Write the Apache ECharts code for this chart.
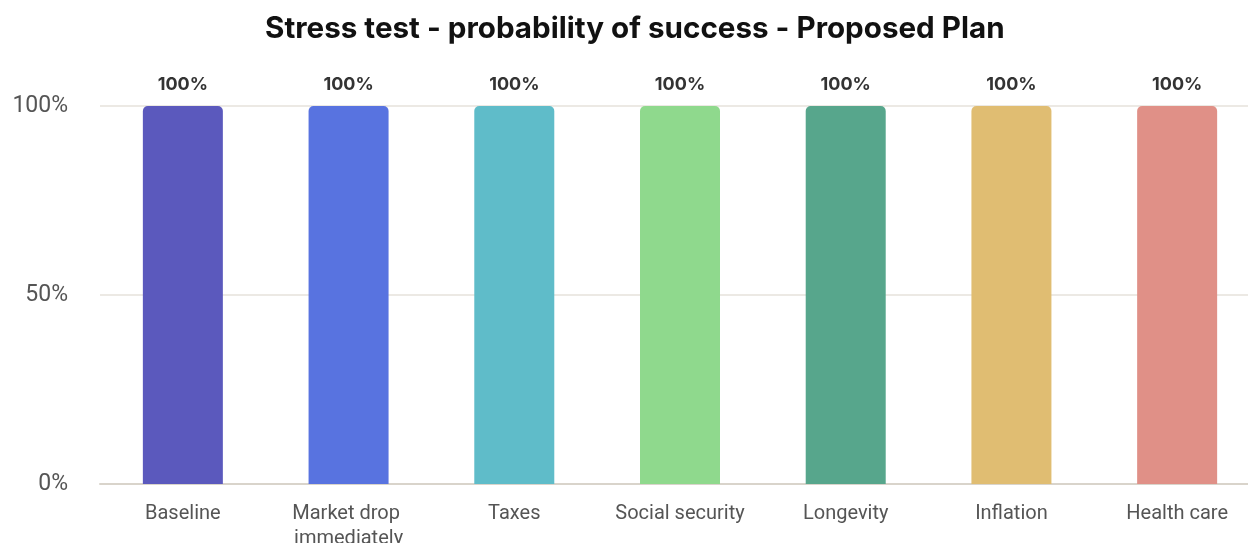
<!DOCTYPE html>
<html>
<head>
<meta charset="utf-8">
<script src="https://cdn.jsdelivr.net/npm/echarts@6/dist/echarts.min.js"></script>
<style>
  html, body { margin: 0; padding: 0; background: #ffffff; }
  #chart { width: 1248px; height: 543px; }
</style>
</head>
<body>
<div id="chart"></div>
<script>
// Scenario names and the probability of success (%) for each stress test
const categories = ['Baseline', 'Market drop immediately', 'Taxes', 'Social security', 'Longevity', 'Inflation', 'Health care'];
const successPct = [100, 100, 100, 100, 100, 100, 100];
const barColors = ['#5b59bd', '#5873e0', '#5fbcc9', '#8fd98d', '#57a68c', '#e0bd72', '#e09087'];
const yTicks = [0, 50, 100];

const chart = echarts.init(document.getElementById('chart'));

chart.setOption({
  animation: false,
  backgroundColor: '#ffffff',
  title: {
    text: 'Stress test - probability of success - Proposed Plan',
    left: 260,
    top: 9,
    textStyle: {
      fontFamily: 'Inter',
      fontWeight: 'bold',
      fontSize: 29.6,
      color: '#111111'
    }
  },
  grid: {
    left: 100,
    top: 106,
    width: 1160,
    bottom: 59,
    containLabel: false,
    outerBoundsMode: 'none'
  },
  xAxis: {
    type: 'category',
    data: categories,
    axisTick: { show: false },
    axisLine: { lineStyle: { color: '#d9d4cb', width: 2 } },
    axisLabel: {
      color: '#555555',
      fontFamily: 'Roboto',
      fontSize: 20,
      margin: 17,
      lineHeight: 25,
      width: 145,
      overflow: 'break',
      interval: 0
    }
  },
  yAxis: {
    type: 'value',
    min: yTicks[0],
    max: yTicks[yTicks.length - 1],
    interval: yTicks[1] - yTicks[0],
    axisLine: { show: false },
    axisTick: { show: false },
    splitLine: { lineStyle: { color: '#ece9e4', width: 2 } },
    axisLabel: {
      formatter: '{value}%',
      color: '#555555',
      fontFamily: 'Roboto',
      fontSize: 23,
      margin: 32
    }
  },
  series: [{
    type: 'bar',
    data: successPct.map((v, i) => ({ value: v, itemStyle: { color: barColors[i] } })),
    barWidth: 80,
    itemStyle: { borderRadius: [5, 5, 0, 0] },
    label: {
      show: true,
      position: 'top',
      distance: 12,
      formatter: '{c}%',
      fontFamily: 'Inter',
      fontWeight: 'bold',
      fontSize: 18,
      color: '#333333'
    }
  }]
});
</script>
</body>
</html>
